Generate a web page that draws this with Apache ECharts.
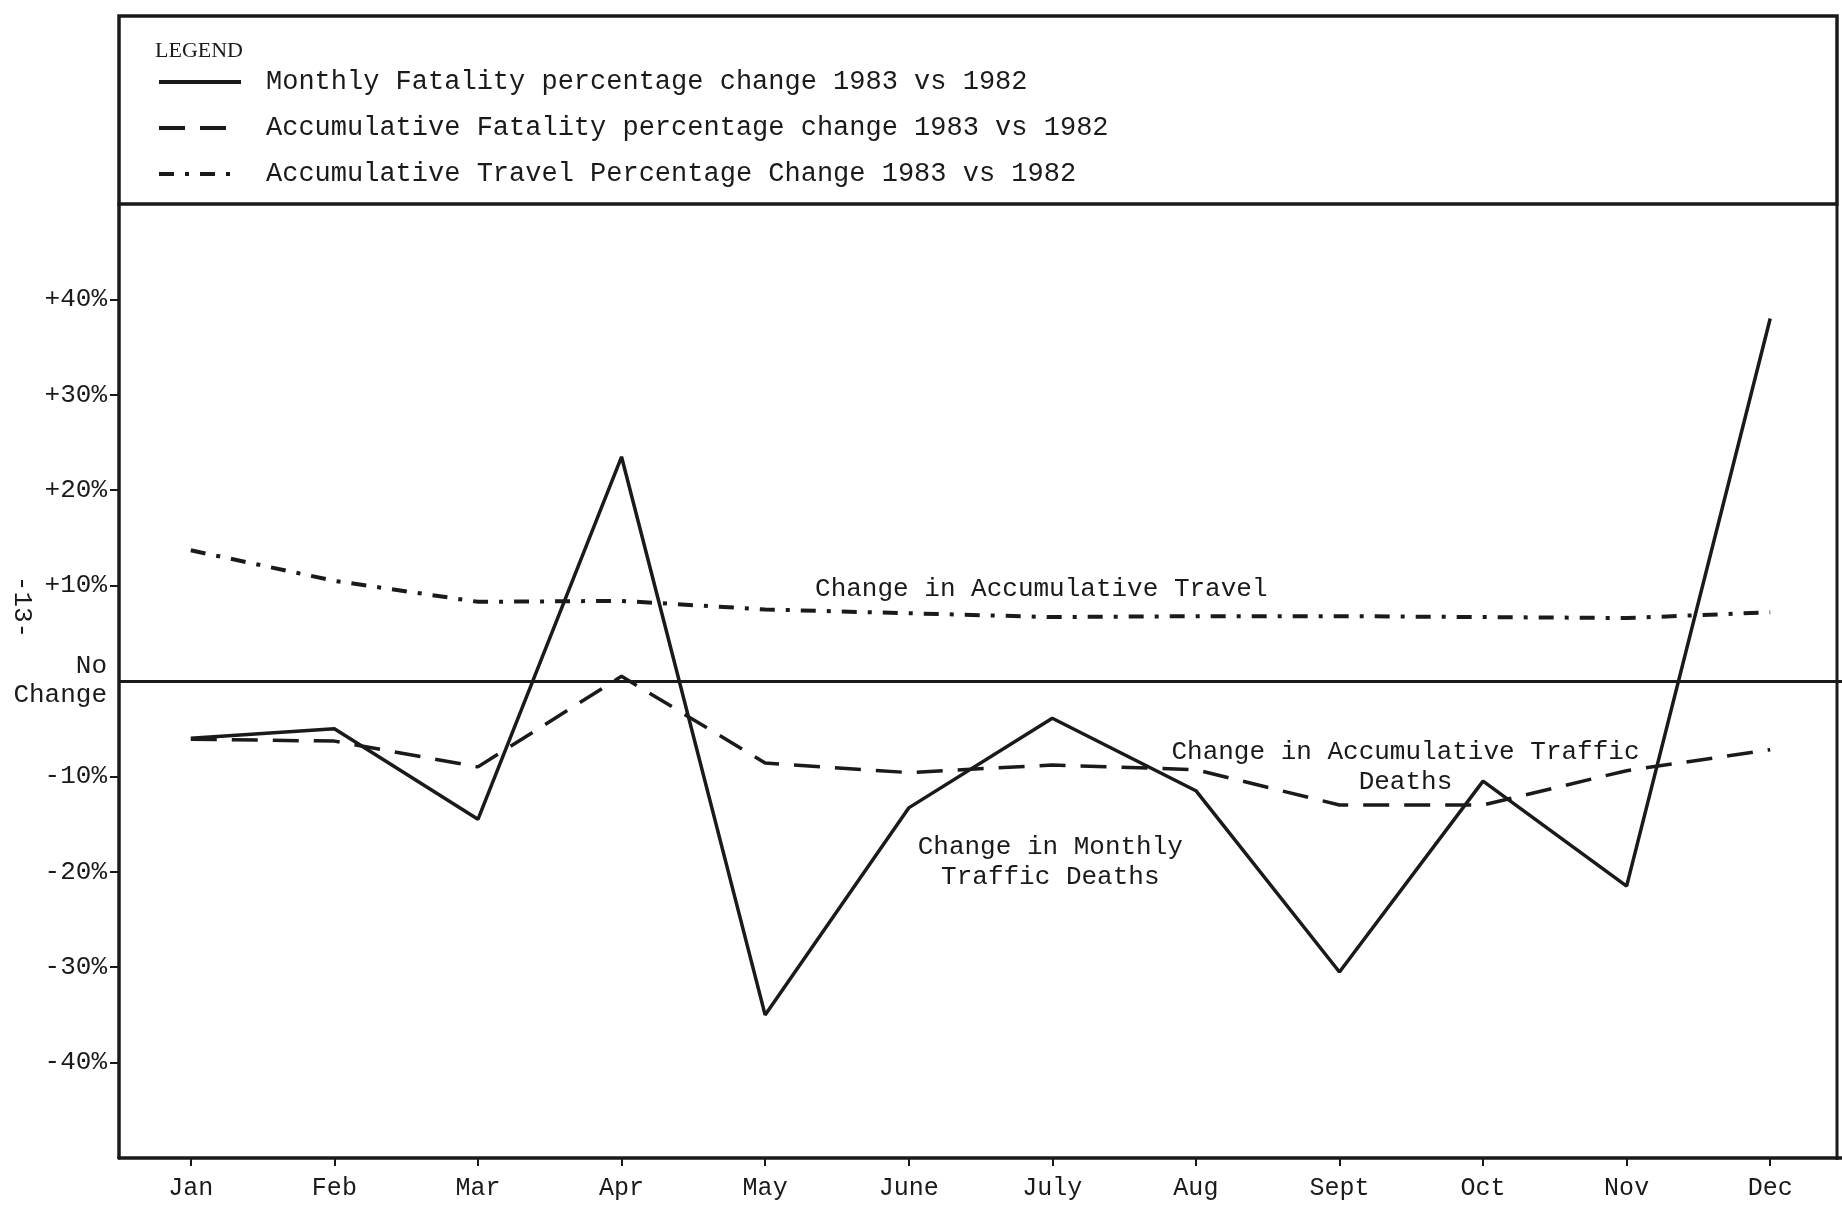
<!DOCTYPE html>
<html>
<head>
<meta charset="utf-8">
<script src="https://cdn.jsdelivr.net/npm/echarts@6/dist/echarts.min.js"></script>
<style>
html,body{margin:0;padding:0;background:#fff;}
#chart{width:1842px;height:1212px;}
</style>
</head>
<body>
<div id="chart"></div>
<script>
// ---- data ----
const months = ['Jan','Feb','Mar','Apr','May','June','July','Aug','Sept','Oct','Nov','Dec'];
const monthlyFatality = [-6, -5, -14.5, 23.5, -35, -13.3, -3.9, -11.5, -30.5, -10.5, -21.5, 38];
const accumFatality   = [-6.1, -6.3, -9.0, 0.5, -8.6, -9.6, -8.8, -9.3, -13.0, -13.0, -9.4, -7.2];
const accumTravel     = [13.7, 10.5, 8.3, 8.4, 7.5, 7.1, 6.7, 6.8, 6.8, 6.7, 6.6, 7.2];
const seriesNames = [
  'Monthly Fatality percentage change 1983 vs 1982',
  'Accumulative Fatality percentage change 1983 vs 1982',
  'Accumulative Travel Percentage Change 1983 vs 1982'
];
const yTickValues = [-40, -30, -20, -10, 0, 10, 20, 30, 40];
const yTickLabels = ['-40%', '-30%', '-20%', '-10%', 'No\nChange', '+10%', '+20%', '+30%', '+40%'];
const annoTravel = 'Change in Accumulative Travel';
const annoMonthly = 'Change in Monthly\nTraffic Deaths';
const annoAccum = 'Change in Accumulative Traffic\nDeaths';
const legendTitle = 'LEGEND';
const pageNumber = '-13-';

const INK = '#1a1a1a';
const MONO = 'Liberation Mono';

const chart = echarts.init(document.getElementById('chart'));

function annoLabel(text, offset) {
  return {
    show: true, position: 'inside', offset: offset, formatter: text,
    fontFamily: MONO, fontSize: 26, color: INK, lineHeight: 30, align: 'center'
  };
}

const option = {
  backgroundColor: '#ffffff',
  animation: false,
  title: {
    text: legendTitle, left: 150, top: 35,
    textStyle: {fontFamily: 'Liberation Serif', fontSize: 22, fontWeight: 'normal', color: INK}
  },
  legend: {
    orient: 'vertical', left: 152, top: 62,
    itemWidth: 82, itemHeight: 14, itemGap: 16,
    data: seriesNames,
    itemStyle: {opacity: 0, borderWidth: 0},
    lineStyle: {width: 4},
    textStyle: {fontFamily: MONO, fontSize: 27, color: INK, lineHeight: 30, padding: [0, 0, 0, 20]}
  },
  grid: {left: 119, top: 204, width: 1729, height: 954},
  xAxis: {
    type: 'category', data: months, boundaryGap: true,
    axisLine: {show: true, onZero: false, lineStyle: {color: INK, width: 3.5}},
    axisTick: {show: true, alignWithLabel: true, length: 8, lineStyle: {color: INK, width: 2}},
    axisLabel: {margin: 18, fontFamily: MONO, fontSize: 25, color: INK},
    splitLine: {show: false}
  },
  yAxis: {
    type: 'value', min: -50, max: 50, interval: 10,
    axisLine: {show: true, lineStyle: {color: INK, width: 3.5}},
    axisTick: {show: true, length: 9, lineStyle: {color: INK, width: 2},
      customValues: yTickValues.filter(v => v !== 0)},
    axisLabel: {
      margin: 12, fontFamily: MONO, fontSize: 26, color: INK, lineHeight: 29,
      customValues: yTickValues,
      formatter: function (v) {
        const i = yTickValues.indexOf(v);
        return i >= 0 ? yTickLabels[i] : '';
      }
    },
    splitLine: {show: false}
  },
  graphic: [
    {type: 'rect', shape: {x: 119, y: 16, width: 1718, height: 188},
      style: {fill: 'none', stroke: INK, lineWidth: 3.5}, z: 100},
    {type: 'line', shape: {x1: 1837, y1: 204, x2: 1837, y2: 1160},
      style: {stroke: INK, lineWidth: 3}, z: 100},
    {type: 'text', x: 22, y: 607, rotation: -Math.PI / 2,
      style: {text: pageNumber, font: '26px "Liberation Mono"', fill: INK,
        textAlign: 'center', textVerticalAlign: 'middle'}, z: 100}
  ],
  series: [
    {
      name: seriesNames[0], type: 'line', data: monthlyFatality,
      symbol: 'none', smooth: false,
      lineStyle: {color: INK, width: 3.5, type: 'solid'},
      itemStyle: {color: INK},
      markLine: {
        silent: true, symbol: 'none', label: {show: false},
        lineStyle: {color: INK, width: 3, type: 'solid'},
        data: [{yAxis: 0}]
      },
      markPoint: {
        silent: true, symbol: 'circle', symbolSize: 1,
        itemStyle: {color: 'rgba(0,0,0,0)'},
        data: [{coord: [6, -19.0], label: annoLabel(annoMonthly, [-2, 0])}]
      }
    },
    {
      name: seriesNames[1], type: 'line', data: accumFatality,
      symbol: 'none',
      lineStyle: {color: INK, width: 3.5, type: [26, 15]},
      itemStyle: {color: INK},
      markPoint: {
        silent: true, symbol: 'circle', symbolSize: 1,
        itemStyle: {color: 'rgba(0,0,0,0)'},
        data: [{coord: [8, -9.0], label: annoLabel(annoAccum, [66, 0])}]
      }
    },
    {
      name: seriesNames[2], type: 'line', data: accumTravel,
      symbol: 'none',
      lineStyle: {color: INK, width: 4, type: [15, 11, 4, 11]},
      itemStyle: {color: INK},
      markPoint: {
        silent: true, symbol: 'circle', symbolSize: 1,
        itemStyle: {color: 'rgba(0,0,0,0)'},
        data: [{coord: [6, 9.6], label: annoLabel(annoTravel, [-11, 0])}]
      }
    }
  ]
};

chart.setOption(option);
</script>
</body>
</html>
